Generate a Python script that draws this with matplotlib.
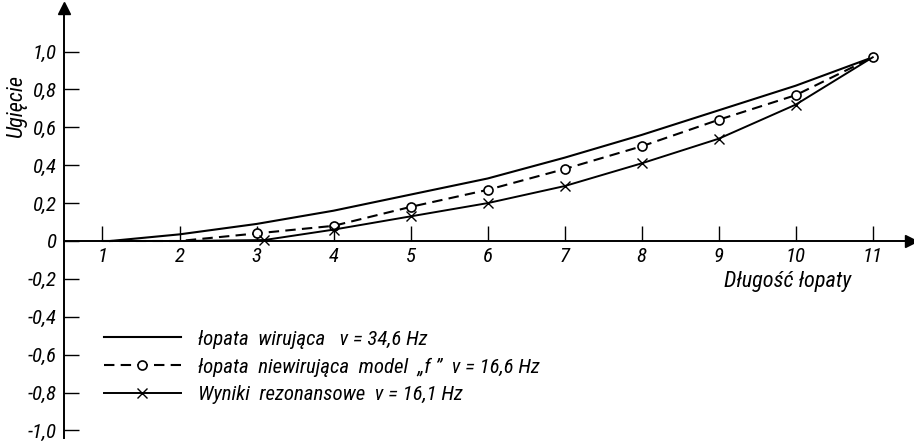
import matplotlib
matplotlib.use('Agg')
import matplotlib.pyplot as plt

plt.rcParams['font.family'] = ['Roboto Condensed', 'DejaVu Sans']
plt.rcParams['font.style'] = 'italic'

# Data
x_rot = [1.1, 2, 3, 4, 5, 6, 7, 8, 9, 10, 11]
y_rot = [0.0, 0.035, 0.09, 0.16, 0.245, 0.33, 0.44, 0.56, 0.69, 0.82, 0.97]

x_model = [1, 2, 3, 4, 5, 6, 7, 8, 9, 10, 11]
y_model = [0.0, 0.0, 0.04, 0.08, 0.18, 0.27, 0.38, 0.50, 0.64, 0.77, 0.97]

x_res = [1, 2, 3.1, 4, 5, 6, 7, 8, 9, 10, 11]
y_res = [0.0, 0.0, 0.005, 0.06, 0.13, 0.20, 0.29, 0.41, 0.54, 0.72, 0.97]

x_ticks = [1, 2, 3, 4, 5, 6, 7, 8, 9, 10, 11]
y_ticks = [-1.0, -0.8, -0.6, -0.4, -0.2, 0, 0.2, 0.4, 0.6, 0.8, 1.0]
y_ticklabels = ['-1,0', '-0,8', '-0,6', '-0,4', '-0,2', '0', '0,2', '0,4', '0,6', '0,8', '1,0']

labels = ['łopata  wirująca   ν = 34,6 Hz',
          'łopata  niewirująca  model  „f ”  ν = 16,6 Hz',
          'Wyniki  rezonansowe  ν = 16,1 Hz']

fig = plt.figure(figsize=(9.14, 4.46), dpi=100)
ax = fig.add_axes([0.07, 0.018, 0.927, 0.964])
ax.set_xlim(0.5, 11.5)
ax.set_ylim(-1.04, 1.23)

# axes drawn as arrows through the origin
for s in ['top', 'right']:
    ax.spines[s].set_visible(False)
ax.spines['left'].set_position(('data', 0.5))
ax.spines['bottom'].set_position(('data', 0))
ax.spines['left'].set_linewidth(1.4)
ax.spines['bottom'].set_linewidth(1.4)
ax.plot(1, 0, '>k', ms=9, transform=ax.get_yaxis_transform(), clip_on=False)
ax.plot(0.5, 1, '^k', ms=9, transform=ax.get_xaxis_transform(), clip_on=False)

ax.set_xticks(x_ticks)
ax.set_xticklabels([str(t) for t in x_ticks])
ax.set_yticks(y_ticks)
ax.set_yticklabels(y_ticklabels)
ax.tick_params(axis='both', direction='in', length=11, width=1, labelsize=15)
ax.tick_params(axis='x', pad=4)
ax.tick_params(axis='y', pad=5)

ax.plot(x_rot, y_rot, color='black', lw=1.5, label=labels[0])
ax.plot(x_model, y_model, color='black', lw=1.5, ls=(0, (5, 3)), marker='o',
        ms=6.5, mfc='white', mec='black', mew=1.2, markevery=list(range(2, 11)),
        label=labels[1])
ax.plot(x_res, y_res, color='black', lw=1.4, marker='x', ms=7, mew=1,
        markevery=list(range(2, 10)), label=labels[2])

ax.text(9.9, -0.215, 'Długość łopaty', fontsize=16, ha='center', va='center')
ax.text(-0.12, 0.71, 'Ugięcie', fontsize=16, rotation=90, ha='center', va='center')

leg = ax.legend(loc='center left', bbox_to_anchor=(0.025, 0.165), frameon=False,
                fontsize=15, handlelength=3.7, labelspacing=0.42, handletextpad=0.8)

fig.savefig('out.png', dpi=100)
